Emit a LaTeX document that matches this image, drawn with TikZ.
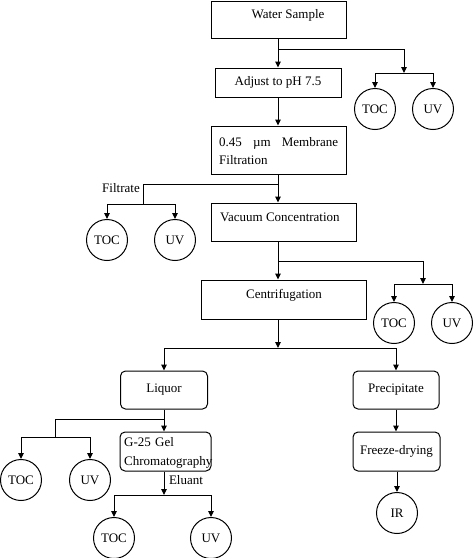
\documentclass[tikz,border=0pt]{standalone}
\usepackage{fontspec}
\setmainfont{Liberation Serif}
\usetikzlibrary{arrows.meta,calc}
\begin{document}
\begin{tikzpicture}[x=1pt,y=-1pt,
  every node/.style={font=\fontsize{13}{15}\selectfont, inner sep=0pt},
  box/.style={draw, line width=1pt},
  rbox/.style={draw, line width=1pt, rounded corners=5pt},
  meas/.style={draw, circle, line width=1pt, minimum size=41pt},
  arr/.style={line width=1pt, -{Triangle[length=6pt,width=5.5pt]}},
  ln/.style={line width=1pt}]
\useasboundingbox (0,0) rectangle (474,558);

% boxes
\node[box, minimum width=135pt, minimum height=37pt] (ws) at (278.5,19.5) {};
\node (wst) at (288,15) {Water Sample};
\node[box, minimum width=126pt, minimum height=29pt] (adj) at (278,82.5) {Adjust to pH 7.5};
\node[box, minimum width=135pt, minimum height=48pt] (mem) at (278.5,150) {};
\node[anchor=north west, text width=119pt, align=left,
      font=\fontsize{13}{18}\selectfont] (memt) at (219,137) {0.45\hfill µm\hfill Membrane\\Filtration};
\node[box, minimum width=145pt, minimum height=38pt] (vac) at (283.5,222) {};
\node[anchor=west] (vact) at (220,217) {Vacuum Concentration};
\node[box, minimum width=165pt, minimum height=39pt] (cen) at (283.5,299.5) {};
\node (cent) at (284,295) {Centrifugation};
\node[rbox, minimum width=87pt, minimum height=38pt] (liq) at (164,390) {Liquor};
\node[rbox, minimum width=86pt, minimum height=38pt] (pre) at (396,390) {Precipitate};
\node[rbox, minimum width=91pt, minimum height=39pt] (g25) at (165.5,451.5) {};
\node[anchor=north west, text width=95pt, align=left,
      font=\fontsize{13}{19}\selectfont] (g25t) at (124,437.5) {G-25 Gel\\Chromatography};
\node[rbox, minimum width=87pt, minimum height=39pt] (frz) at (396.5,451.5) {Freeze-drying};

% measurement circles
\node[meas] (t1) at (375,109) {TOC};
\node[meas] (u1) at (433,109) {UV};
\node[meas] (t2) at (107,240) {TOC};
\node[meas] (u2) at (175,240) {UV};
\node[meas] (t3) at (394,323) {TOC};
\node[meas] (u3) at (452,323) {UV};
\node[meas] (t4) at (21,480) {TOC};
\node[meas] (u4) at (90,480) {UV};
\node[meas] (t5) at (114,538) {TOC};
\node[meas] (u5) at (211,538) {UV};
\node[meas] (ir) at (397,513) {IR};

% labels
\node (filt) at (121,188) {Filtrate};
\node (elu) at (186,480) {Eluant};

% junction points
\coordinate (jA) at (278,49);
\coordinate (j1) at (404,73);
\coordinate (jB) at (278,184);
\coordinate (j2) at (143,204);
\coordinate (jC) at (278,261);
\coordinate (j3) at (423,284);
\coordinate (jD) at (278,348);
\coordinate (jE) at (164,419);
\coordinate (j4) at (55,437);
\coordinate (jF) at (164,495);

% connectors
\draw[arr] (ws.south -| jA) -- (jA |- adj.north);
\draw[arr] (jA) -| (j1);
\draw[arr] (j1) -| (t1);
\draw[arr] (j1) -| (u1);
\draw[arr] (adj.south -| jA) -- (jA |- mem.north);
\draw[arr] (mem.south -| jB) -- (jB |- vac.north);
\draw[ln] (jB) -| (j2);
\draw[arr] (j2) -| (t2);
\draw[arr] (j2) -| (u2);
\draw[arr] (vac.south -| jC) -- (jC |- cen.north);
\draw[arr] (jC) -| (j3);
\draw[arr] (j3) -| (t3);
\draw[arr] (j3) -| (u3);
\draw[arr] (cen.south -| jD) -- (jD);
\draw[arr] (jD) -| (liq);
\draw[arr] (jD) -| (pre);
\draw[arr] (liq.south) -- (liq.south |- g25.north);
\draw[ln] (jE) -| (j4);
\draw[arr] (j4) -| (t4);
\draw[arr] (j4) -| (u4);
\draw[arr] (g25.south -| jF) -- (jF);
\draw[arr] (jF) -| (t5);
\draw[arr] (jF) -| (u5);
\draw[arr] (pre.south) -- (pre.south |- frz.north);
\draw[arr] (frz.south -| ir) -- (ir);
\end{tikzpicture}
\end{document}
